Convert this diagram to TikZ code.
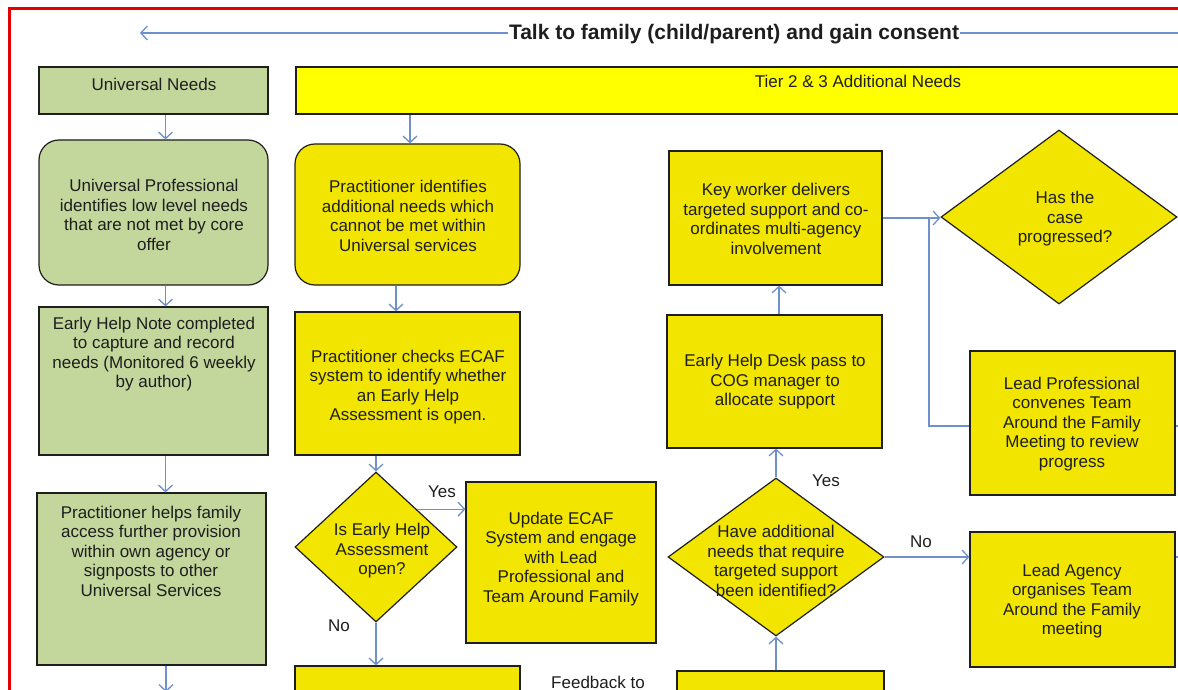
\documentclass[tikz,border=0pt]{standalone}
\usepackage{fontspec}
\setmainfont{Liberation Sans}
\usetikzlibrary{shapes.geometric,arrows.meta,calc}
\definecolor{gfill}{RGB}{195,214,155}
\definecolor{yfill}{RGB}{242,230,0}
\definecolor{hfill}{RGB}{255,255,0}
\definecolor{conn}{RGB}{110,145,205}
\definecolor{framered}{RGB}{228,0,0}
\definecolor{ink}{RGB}{30,30,30}
\begin{document}
\begin{tikzpicture}[x=1pt,y=-1pt,
  box/.style={draw=ink, line width=1.2pt, inner sep=0pt},
  gbox/.style={box, fill=gfill},
  ybox/.style={box, fill=yfill},
  hbox/.style={box, fill=hfill},
  ydia/.style={box, fill=yfill, diamond},
  txt/.style={font=\fontsize{17}{19.5}\selectfont, align=center, text=ink, inner sep=0pt},
  ttl/.style={font=\fontsize{21}{25}\selectfont\bfseries, text=ink, fill=white, inner sep=1pt},
  conline/.style={draw=conn, line width=1.3pt},
  arr/.style={conline, -{Straight Barb[length=6.5pt,width=14pt]}}
]
\useasboundingbox (0,0) rectangle (1178,690);
\clip (0,0) rectangle (1178,690);
\fill[white] (0,0) rectangle (1178,690);
\draw[framered, line width=3pt] (9,710) -- (9,9) -- (1195,9);

% title
\coordinate (tr) at (1195,33);
\coordinate (tl) at (140,33);
\draw[arr] (tr) -- (tl);
\node[ttl] (title) at (734,34) {Talk to family (child/parent) and gain consent};

% headers
\node[gbox, minimum width=229pt, minimum height=47pt] (un) at (153.5,90.5) {};
\node[txt] (untxt) at (154,84) {Universal Needs};
\node[hbox, minimum width=894pt, minimum height=47pt] (tier) at (743,90.5) {};
\node[txt] (tiertxt) at (858,81) {Tier 2 \& 3 Additional Needs};

% left column
\node[gbox, rounded corners=20pt, minimum width=229pt, minimum height=145pt] (up) at (153.5,212.5) {};
\node[txt] (uptxt) at (154,215) {Universal Professional\\identifies low level needs\\that are not met by core\\offer};
\node[gbox, minimum width=229pt, minimum height=148pt] (ehn) at (153.5,381) {};
\node[txt] (ehntxt) at (154,354) {Early Help Note completed\\to capture and record\\needs (Monitored 6 weekly\\by author)};
\node[gbox, minimum width=229pt, minimum height=172pt] (phf) at (151.5,579) {};
\node[txt] (phftxt) at (151,551) {Practitioner helps family\\access further provision\\within own agency or\\signposts to other\\Universal Services};
\coordinate (lbot) at (166,692);

% middle column
\node[ybox, rounded corners=20pt, minimum width=225pt, minimum height=141pt] (pi) at (407.5,214.5) {};
\node[txt] (pitxt) at (408,216) {Practitioner identifies\\additional needs which\\cannot be met within\\Universal services};
\node[ybox, minimum width=225pt, minimum height=143pt] (pc) at (407.5,383.5) {};
\node[txt] (pctxt) at (408,387) {Practitioner checks ECAF\\system to identify whether\\an Early Help\\Assessment is open.};
\node[ydia, minimum width=162pt, minimum height=150pt] (d1) at (376,547) {};
\node[txt] (d1txt) at (382,551) {Is Early Help\\Assessment\\open?};
\node[ybox, minimum width=190pt, minimum height=161pt] (upd) at (561,562.5) {};
\node[txt] (updtxt) at (561,559) {Update ECAF\\System and engage\\with Lead\\Professional and\\Team Around Family};
\node[ybox, minimum width=225pt, minimum height=60pt] (bm) at (407.5,696) {};
\node[txt] (fb) at (598,682) {Feedback to};
\node[txt] (yes1) at (442,492) {Yes};
\node[txt] (no1) at (339,626) {No};

% right-middle column
\node[ybox, minimum width=213pt, minimum height=134pt] (kw) at (775.5,218) {};
\node[txt] (kwtxt) at (776,219) {Key worker delivers\\targeted support and co-\\ordinates multi-agency\\involvement};
\node[ybox, minimum width=215pt, minimum height=133pt] (ehd) at (774.5,381.5) {};
\node[txt] (ehdtxt) at (775,382) {Early Help Desk pass to\\COG manager to\\allocate support};
\node[ydia, minimum width=216pt, minimum height=158pt] (d2) at (776,557) {};
\node[txt] (d2txt) at (776,561) {Have additional\\needs that require\\targeted support\\been identified?};
\node[ybox, minimum width=207pt, minimum height=55pt] (br) at (780.5,698.5) {};
\node[txt] (yes2) at (826,481) {Yes};
\node[txt] (no2) at (921,542) {No};

% right column
\node[ydia, minimum width=236pt, minimum height=174pt] (d3) at (1059,217) {};
\node[txt] (d3txt) at (1065,219) {Has the\\case\\progressed?};
\node[ybox, minimum width=205pt, minimum height=144pt] (lp) at (1072.5,423) {};
\node[txt] (lptxt) at (1072,424) {Lead Professional\\convenes Team\\Around the Family\\Meeting to review\\progress};
\node[ybox, minimum width=205pt, minimum height=135pt] (la) at (1072.5,599.5) {};
\node[txt] (latxt) at (1072,601) {Lead Agency\\organises Team\\Around the Family\\meeting};
\coordinate (j) at (929,218);
\coordinate (xk) at (779,0);
\coordinate (lpout) at (1185,426);
\coordinate (laout) at (1185,557);

% connectors
\draw[arr] ([xshift=12pt]un.south) -- ([xshift=12pt]up.north);
\draw[arr] ([xshift=12pt]up.south) -- ([xshift=12pt]ehn.north);
\draw[arr] ([xshift=12pt]ehn.south) -- ([xshift=14pt]phf.north);
\draw[arr] ([xshift=14.5pt]phf.south) -- (lbot);
\draw[arr] (tier.south -| 410,0) -- ([xshift=2.5pt]pi.north);
\draw[arr] ([xshift=-11.5pt]pi.south) -- ([xshift=-11.5pt]pc.north);
\draw[arr] (pc.south -| d1.north) -- (d1.north);
\draw[arr] (d1.north east) -- (d1.north east -| upd.west);
\draw[arr] (d1.south) -- (d1.south |- bm.north);
\draw[arr] (br.north -| d2.south) -- (d2.south);
\draw[arr] (d2.north) -- (d2.north |- ehd.south);
\draw[arr] (ehd.north -| xk) -- (kw.south -| xk);
\draw[arr] (d2.east) -- (d2.east -| la.west);
\draw[arr] (kw.east) -- (kw.east -| d3.west);
\draw[conline] (lp.west |- lpout) -| (j);
\draw[conline] (lp.east |- lpout) -- (lpout);
\draw[conline] (la.east |- laout) -- (laout);
\end{tikzpicture}
\end{document}
